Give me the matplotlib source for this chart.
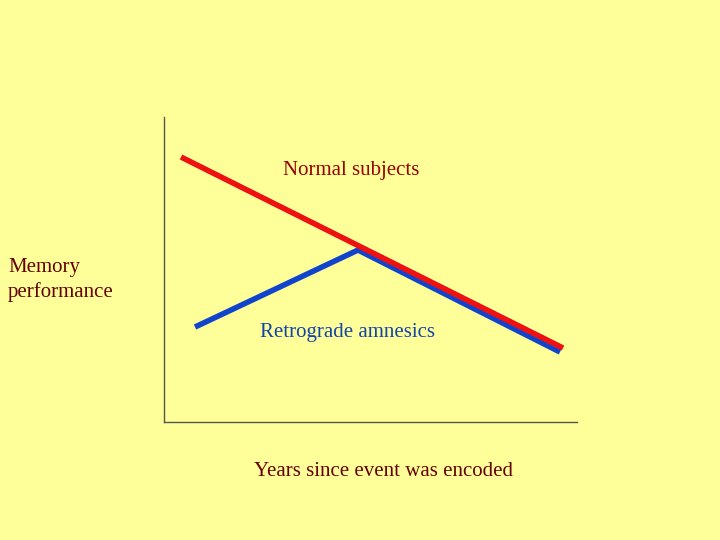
import matplotlib
matplotlib.use('Agg')
import matplotlib.pyplot as plt

# data in arbitrary units (time since encoding vs performance)
normal_x = [17, 399]
normal_y = [265, 74]
amnesic_x = [31, 194, 396]
amnesic_y = [95, 172, 70]

bg = '#ffff99'
plt.rcParams['font.family'] = 'Liberation Serif'

fig = plt.figure(figsize=(7.2, 5.4), dpi=100, facecolor=bg)
ax = fig.add_axes([0.2278, 0.2185, 0.5736, 0.5648])
ax.set_facecolor(bg)
ax.plot(normal_x, normal_y, color='#ee1111', lw=4, solid_capstyle='butt', zorder=2)
ax.plot(amnesic_x, amnesic_y, color='#1144cc', lw=4, solid_capstyle='butt', zorder=1)
ax.set_xlim(0, 413)
ax.set_ylim(0, 305)
ax.set_xticks([])
ax.set_yticks([])
for s in ['top', 'right']:
    ax.spines[s].set_visible(False)
for s in ['left', 'bottom']:
    ax.spines[s].set_color('#555555')
    ax.spines[s].set_linewidth(1)

fig.text(351/720, 1 - 171/540, 'Normal subjects', color='#990000', fontsize=15, ha='center', va='center')
fig.text(348/720, 1 - 333/540, 'Retrograde amnesics', color='#1144aa', fontsize=15, ha='center', va='center')
fig.text(8/720, 1 - 280/540, 'Memory\nperformance', color='#660000', fontsize=15, ha='left', va='center', linespacing=1.3)
fig.text(384/720, 1 - 472/540, 'Years since event was encoded', color='#660000', fontsize=15, ha='center', va='center')

fig.savefig('out.png', dpi=100, facecolor=bg)
